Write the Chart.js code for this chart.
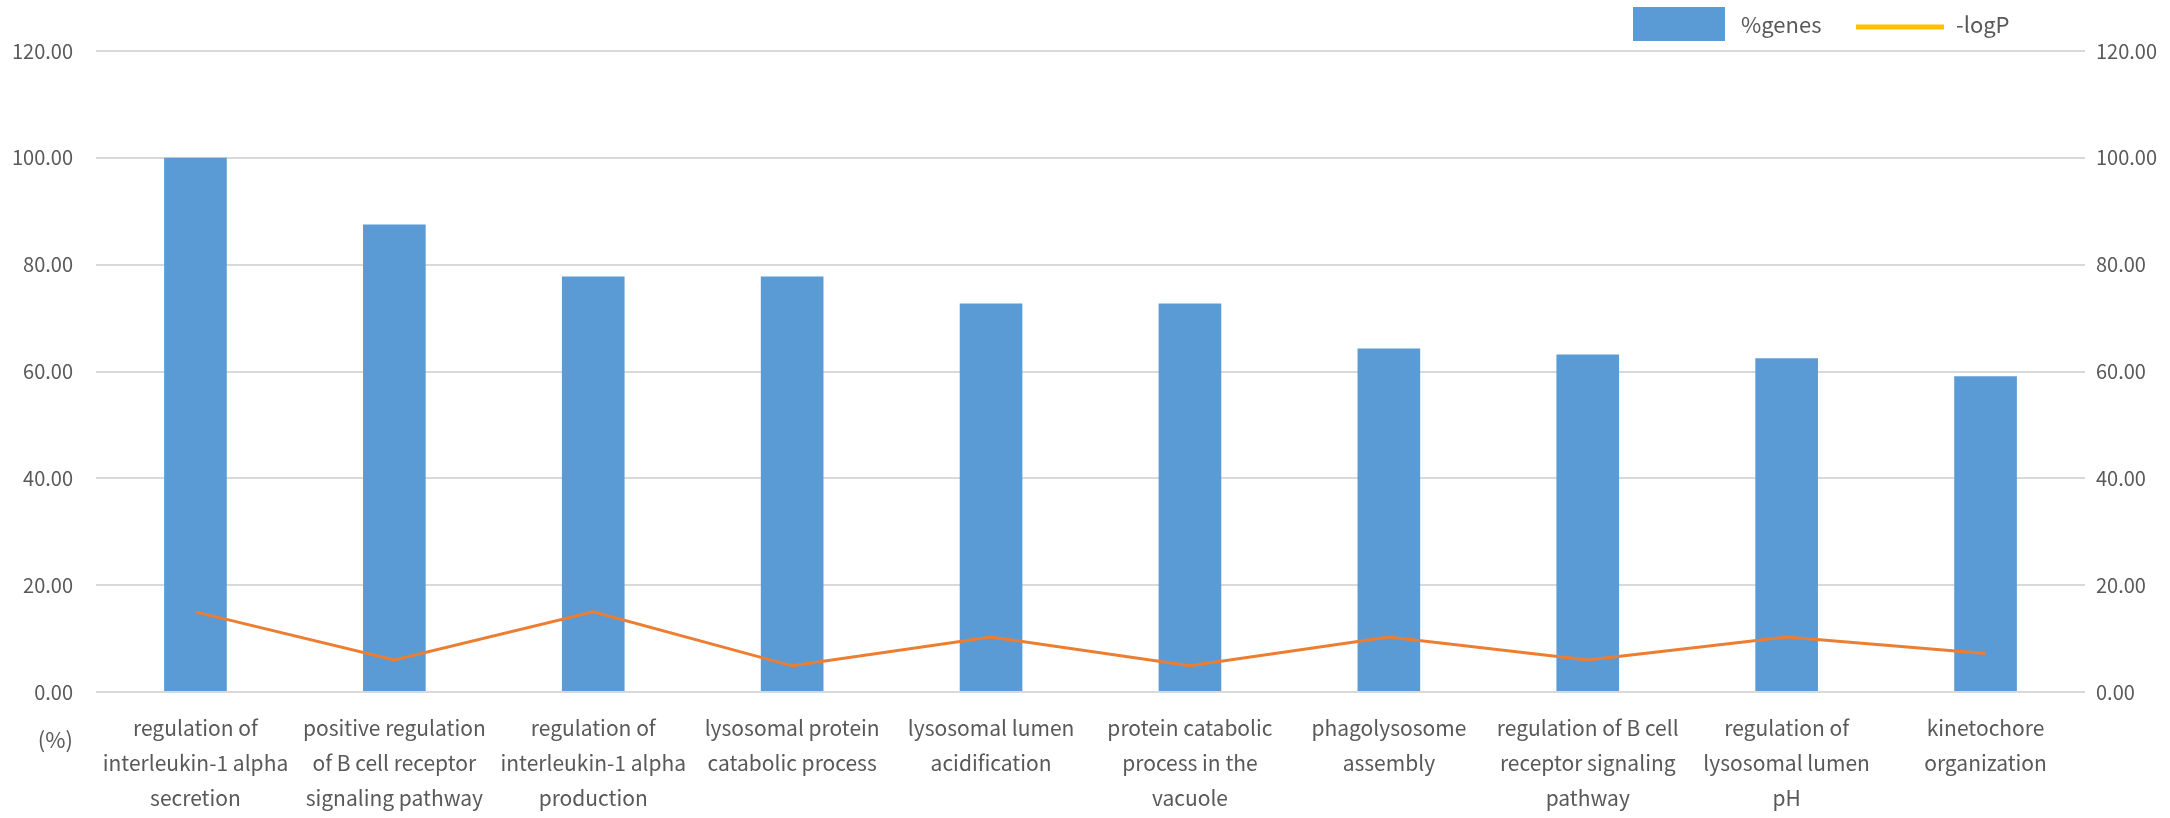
<!DOCTYPE html>
<html><head><meta charset="utf-8">
<script src="https://cdn.jsdelivr.net/npm/chart.js@4"></script>
<style>html,body{margin:0;padding:0;background:#fff;}#wrap{width:2170px;height:818px;position:relative}</style>
</head><body><div id="wrap"><canvas id="c" width="2170" height="818"></canvas></div>
<script>
const categories = [
  ["regulation of", "interleukin-1 alpha", "secretion"],
  ["positive regulation", "of B cell receptor", "signaling pathway"],
  ["regulation of", "interleukin-1 alpha", "production"],
  ["lysosomal protein", "catabolic process"],
  ["lysosomal lumen", "acidification"],
  ["protein catabolic", "process in the", "vacuole"],
  ["phagolysosome", "assembly"],
  ["regulation of B cell", "receptor signaling", "pathway"],
  ["regulation of", "lysosomal lumen", "pH"],
  ["kinetochore", "organization"]
];
const percentGenes = [100, 87.5, 77.78, 77.78, 72.73, 72.73, 64.29, 63.16, 62.5, 59.09];
const negLogP = [15.0, 6.0, 15.0, 4.9, 10.3, 4.9, 10.3, 6.0, 10.3, 7.2];
const seriesNames = ["%genes", "-logP"];
const axisMin = 0, axisMax = 120, axisStep = 20;
const unitLabel = "(%)";

const FONT = "'Noto Sans CJK KR', 'Noto Sans', sans-serif";
const TXT = "#595959";

const legendPlugin = {
  id: 'customLegend',
  afterDraw(chart) {
    const ctx = chart.ctx;
    ctx.save();
    ctx.font = "22px " + FONT;
    ctx.textBaseline = "middle";
    ctx.textAlign = "left";
    // bar legend
    ctx.fillStyle = "#5B9BD5";
    ctx.fillRect(1633, 7, 92, 34);
    ctx.fillStyle = TXT;
    ctx.fillText(seriesNames[0], 1741, 25);
    // line legend
    ctx.strokeStyle = "#FFC000";
    ctx.lineWidth = 5;
    ctx.beginPath();
    ctx.moveTo(1856, 27); ctx.lineTo(1944, 27);
    ctx.stroke();
    ctx.fillText(seriesNames[1], 1956, 25);
    // unit label
    const ys = chart.scales.y;
    ctx.textAlign = "right";
    ctx.fillText(unitLabel, ys.right - 23, 740);
    ctx.restore();
  }
};

const tickCb = v => Number(v).toFixed(2);

new Chart(document.getElementById('c'), {
  data: {
    labels: categories,
    datasets: [
      { type: 'line', label: seriesNames[1], data: negLogP, yAxisID: 'y1',
        borderColor: '#ED7D31', borderWidth: 3, pointRadius: 0, tension: 0, order: 0 },
      { type: 'bar', label: seriesNames[0], data: percentGenes, yAxisID: 'y',
        backgroundColor: '#5B9BD5', borderWidth: 0,
        categoryPercentage: 1, barPercentage: 0.315, order: 1 }
    ]
  },
  options: {
    responsive: false,
    devicePixelRatio: 1,
    animation: false,
    layout: { padding: { left: 9, right: 10, top: 51, bottom: 0 } },
    plugins: { legend: { display: false }, tooltip: { enabled: false } },
    scales: {
      x: {
        afterFit: s => { s.height = 126; },
        grid: { display: false },
        border: { display: false },
        ticks: { color: TXT, font: { family: FONT, size: 21, lineHeight: 1.68 },
                 maxRotation: 0, minRotation: 0, autoSkip: false, padding: 10 }
      },
      y: {
        position: 'left', min: axisMin, max: axisMax,
        afterFit: s => { s.width = 87; },
        grid: { color: '#d9d9d9', lineWidth: 2, drawTicks: false },
        border: { display: false },
        ticks: { stepSize: axisStep, callback: tickCb, color: TXT,
                 font: { family: FONT, size: 20 }, padding: 23 }
      },
      y1: {
        position: 'right', min: axisMin, max: axisMax,
        afterFit: s => { s.width = 75; },
        grid: { display: false, drawTicks: false },
        border: { display: false },
        ticks: { stepSize: axisStep, callback: tickCb, color: TXT,
                 font: { family: FONT, size: 20 }, padding: 11 }
      }
    }
  },
  plugins: [legendPlugin]
});
</script></body></html>
